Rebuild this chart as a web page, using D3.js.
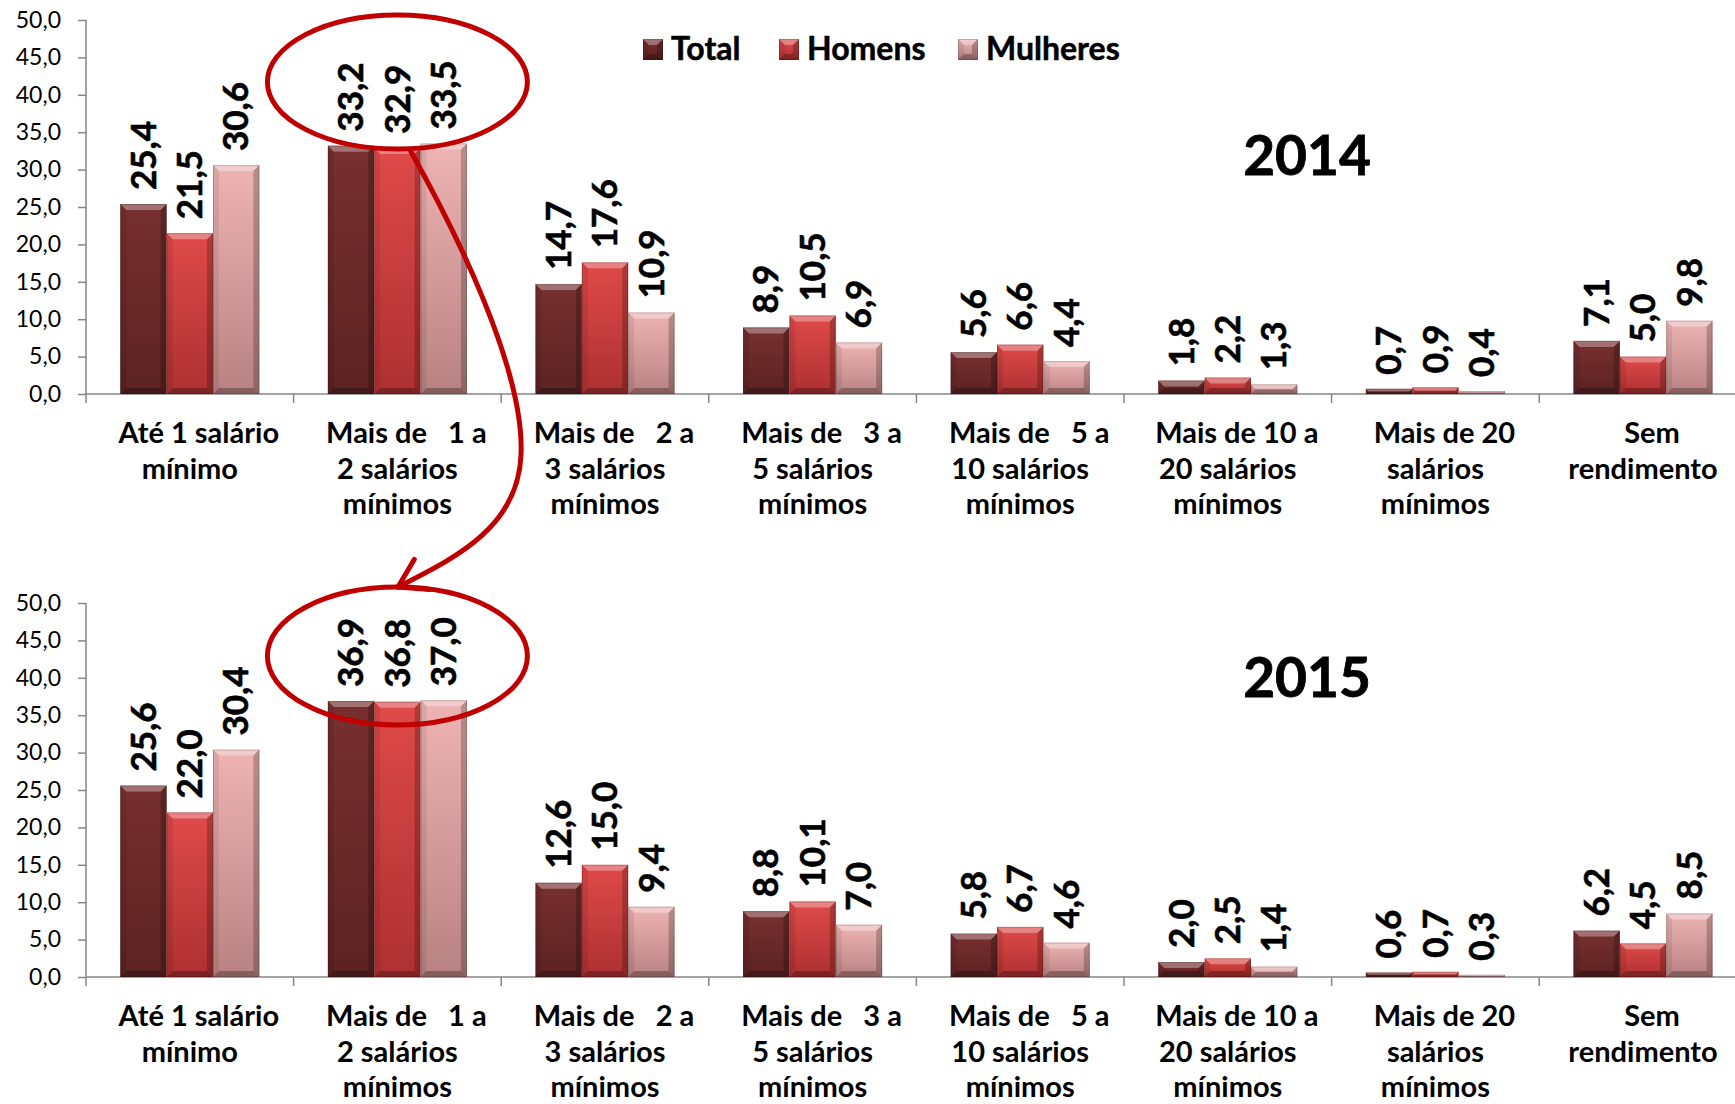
<!DOCTYPE html>
<html>
<head>
<meta charset="utf-8">
<script src="https://cdn.jsdelivr.net/npm/d3@7"></script>
<style>
  html, body { margin: 0; padding: 0; background: #ffffff; }
  svg { display: block; font-family: Lato, "Open Sans", "Noto Sans", sans-serif; }
  .cat { white-space: pre; }
</style>
</head>
<body>
<svg id="chart" width="1735" height="1104"></svg>
<script>
// Faixas de rendimento (rótulos quebrados em linhas)
const categories = [
  ["Até 1 salário", "mínimo"],
  ["Mais de   1 a", "2 salários", "mínimos"],
  ["Mais de   2 a", "3 salários", "mínimos"],
  ["Mais de   3 a", "5 salários", "mínimos"],
  ["Mais de   5 a", "10 salários", "mínimos"],
  ["Mais de 10 a", "20 salários", "mínimos"],
  ["Mais de 20", "salários", "mínimos"],
  ["Sem", "rendimento"]
];
const seriesNames = ["Total", "Homens", "Mulheres"];

// Distribuição percentual, 2014
const total2014    = [25.4, 33.2, 14.7, 8.9, 5.6, 1.8, 0.7, 7.1];
const homens2014   = [21.5, 32.9, 17.6, 10.5, 6.6, 2.2, 0.9, 5.0];
const mulheres2014 = [30.6, 33.5, 10.9, 6.9, 4.4, 1.3, 0.4, 9.8];

// Distribuição percentual, 2015
const total2015    = [25.6, 36.9, 12.6, 8.8, 5.8, 2.0, 0.6, 6.2];
const homens2015   = [22.0, 36.8, 15.0, 10.1, 6.7, 2.5, 0.7, 4.5];
const mulheres2015 = [30.4, 37.0, 9.4, 7.0, 4.6, 1.4, 0.3, 8.5];

const yTicks = [0, 5, 10, 15, 20, 25, 30, 35, 40, 45, 50];

const panels = [
  { year: "2014", top: 20,  bottom: 394, titleY: 175, series: [total2014, homens2014, mulheres2014] },
  { year: "2015", top: 603, bottom: 977, titleY: 697, series: [total2015, homens2015, mulheres2015] }
];

const svg = d3.select("#chart");
const W = 1735;
const left = 86;
const step = 207.6;
const fmt = d => d.toFixed(1).replace(".", ",");

// Cores das séries (topo -> base)
const palette = {
  Total:    ["#77302f", "#5c2222"],
  Homens:   ["#e04a4a", "#ad3030"],
  Mulheres: ["#eeb4b4", "#b98282"]
};

const defs = svg.append("defs");
seriesNames.forEach(s => {
  const g = defs.append("linearGradient")
    .attr("id", "g-" + s).attr("x1", 0).attr("y1", 0).attr("x2", 0).attr("y2", 1);
  g.append("stop").attr("offset", "0%").attr("stop-color", palette[s][0]);
  g.append("stop").attr("offset", "100%").attr("stop-color", palette[s][1]);
});

const x0 = d3.scaleBand()
  .domain(d3.range(categories.length))
  .range([left, left + step * categories.length])
  .padding(0);
const x1 = d3.scaleBand()
  .domain(seriesNames)
  .range([step * 0.165, step * 0.835])
  .padding(0);

// Barra com efeito de chanfro
function bevelBar(g, x, y, w, h, s) {
  g.append("rect").attr("x", x).attr("y", y).attr("width", w).attr("height", h)
    .attr("fill", "url(#g-" + s + ")");
  const b = Math.min(6, h / 2, w / 2);
  if (b <= 0) return;
  const x2 = x + w, y2 = y + h;
  const poly = (pts, fill, op) => g.append("polygon")
    .attr("points", pts.map(p => p.join(",")).join(" "))
    .attr("fill", fill).attr("fill-opacity", op);
  poly([[x, y], [x2, y], [x2 - b, y + b], [x + b, y + b]], "#ffffff", 0.32);
  poly([[x, y], [x + b, y + b], [x + b, y2 - b], [x, y2]], "#000000", 0.08);
  poly([[x2, y], [x2, y2], [x2 - b, y2 - b], [x2 - b, y + b]], "#000000", 0.22);
  poly([[x, y2], [x + b, y2 - b], [x2 - b, y2 - b], [x2, y2]], "#000000", 0.28);
  g.append("rect").attr("x", x + 0.5).attr("y", y + 0.5)
    .attr("width", Math.max(0, w - 1)).attr("height", Math.max(0, h - 1))
    .attr("fill", "none").attr("stroke", "#000").attr("stroke-opacity", 0.18);
}

panels.forEach(p => {
  const y = d3.scaleLinear().domain([0, 50]).range([p.bottom, p.top]);
  const g = svg.append("g");

  // Eixo vertical
  const ya = g.append("g").attr("transform", `translate(${left},0)`)
    .call(d3.axisLeft(y).tickValues(yTicks).tickSize(8).tickSizeOuter(0).tickPadding(17).tickFormat(fmt));
  ya.select(".domain").remove();
  ya.selectAll(".tick line").attr("stroke", "#868686").attr("stroke-width", 1.5);
  ya.selectAll(".tick text").attr("font-size", 23).attr("fill", "#000")
    .attr("font-family", "Lato, 'Open Sans', sans-serif");
  g.append("line").attr("x1", left).attr("x2", left)
    .attr("y1", y(50)).attr("y2", y(0) + 9)
    .attr("stroke", "#868686").attr("stroke-width", 1.5);

  // Eixo das categorias
  g.append("line").attr("x1", left).attr("x2", W)
    .attr("y1", y(0)).attr("y2", y(0))
    .attr("stroke", "#868686").attr("stroke-width", 1.5);
  d3.range(1, categories.length + 1).forEach(i => {
    const xb = left + step * i;
    g.append("line").attr("x1", xb).attr("x2", xb)
      .attr("y1", y(0)).attr("y2", y(0) + 9)
      .attr("stroke", "#868686").attr("stroke-width", 1.5);
  });

  // Rótulos das categorias
  categories.forEach((lines, i) => {
    const cx = x0(i) + x0.bandwidth() / 2;
    lines.forEach((ln, k) => {
      g.append("text").attr("class", "cat")
        .attr("x", cx + (k === 0 ? 9 : 0))
        .attr("y", y(0) + 49 + k * 35.5)
        .attr("text-anchor", "middle")
        .attr("font-size", 29).attr("font-weight", 700).attr("fill", "#000")
        .text(ln);
    });
  });

  // Barras
  categories.forEach((c, i) => {
    seriesNames.forEach((s, j) => {
      const v = p.series[j][i];
      const bx = x0(i) + x1(s);
      bevelBar(g, bx, y(v), x1.bandwidth(), y(0) - y(v), s);
    });
  });

  // Valores
  categories.forEach((c, i) => {
    seriesNames.forEach((s, j) => {
      const v = p.series[j][i];
      const cx = x0(i) + x1(s) + x1.bandwidth() / 2;
      g.append("text")
        .attr("transform", `translate(${cx},${y(v) - 14}) rotate(-90)`)
        .attr("dy", "0.35em")
        .attr("text-anchor", "start")
        .attr("font-size", 35).attr("font-weight", 700).attr("fill", "#000")
        .attr("stroke", "#000").attr("stroke-width", 0.6)
        .text(fmt(v));
    });
  });

  // Ano
  g.append("text").attr("x", 1307).attr("y", p.titleY)
    .attr("text-anchor", "middle")
    .attr("font-size", 55).attr("font-weight", 700).attr("fill", "#000")
    .attr("stroke", "#000").attr("stroke-width", 0.8)
    .text(p.year);
});

// Legenda
const legendX = [643, 779, 958];
const lg = svg.append("g");
seriesNames.forEach((s, j) => {
  bevelBar(lg, legendX[j], 39, 20, 21, s);
  lg.append("text").attr("x", legendX[j] + 28).attr("y", 60)
    .attr("font-size", 32).attr("font-weight", 700).attr("fill", "#000")
    .attr("stroke", "#000").attr("stroke-width", 0.5)
    .text(s);
});

// Destaque da faixa "Mais de 1 a 2 salários mínimos"
const hx = x0(1) + x0.bandwidth() / 2;
const red = "#c00000";
const ann = svg.append("g").attr("fill", "none").attr("stroke", red).attr("stroke-width", 5);
ann.append("ellipse").attr("cx", hx).attr("cy", 82).attr("rx", 130).attr("ry", 67);
ann.append("ellipse").attr("cx", hx).attr("cy", 656).attr("rx", 130).attr("ry", 69);

const start = [410, 150], c1 = [455, 230], c2 = [525, 370], mid = [521, 455],
      c3 = [518, 530], c4 = [450, 560], tip = [398, 587];
ann.append("path")
  .attr("d", `M${start} C${c1} ${c2} ${mid} C${c3} ${c4} ${tip}`)
  .attr("stroke-linecap", "round");
const ang = Math.atan2(c4[1] - tip[1], c4[0] - tip[0]);
const arm = 32, spread = 32 * Math.PI / 180;
const a1 = [tip[0] + arm * Math.cos(ang - spread), tip[1] + arm * Math.sin(ang - spread)];
const a2 = [tip[0] + arm * Math.cos(ang + spread), tip[1] + arm * Math.sin(ang + spread)];
ann.append("path")
  .attr("d", `M${a1} L${tip} L${a2}`)
  .attr("stroke-linecap", "round").attr("stroke-linejoin", "round");
</script>
</body>
</html>
